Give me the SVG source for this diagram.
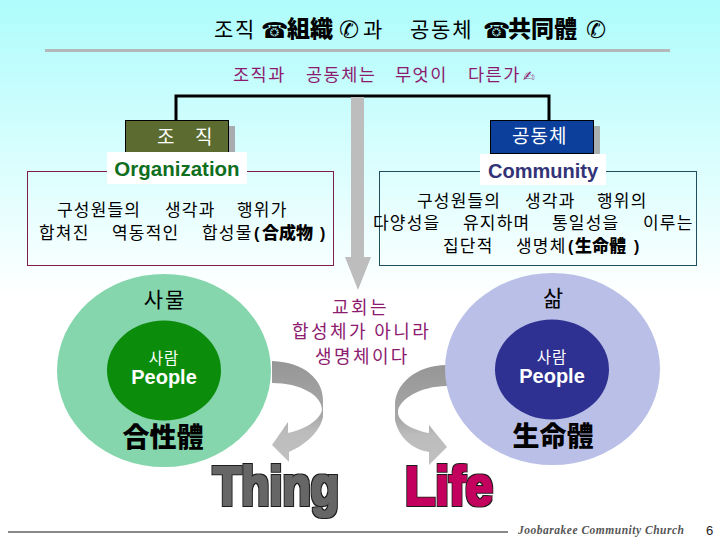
<svg xmlns="http://www.w3.org/2000/svg" width="720" height="540" viewBox="0 0 720 540">
<defs>
<linearGradient id="bg" x1="0" y1="0" x2="0" y2="1"><stop offset="0" stop-color="#aefcfc"/><stop offset="0.55" stop-color="#ffffff"/><stop offset="1" stop-color="#ffffff"/></linearGradient>
<linearGradient id="curve" x1="0" y1="0" x2="0" y2="1"><stop offset="0" stop-color="#969696"/><stop offset="0.55" stop-color="#a8a8a8"/><stop offset="0.7" stop-color="#bcbcbc"/><stop offset="1" stop-color="#c0c0c0"/></linearGradient>
<filter id="fat" x="-10%" y="-10%" width="120%" height="120%">
<feMorphology in="SourceAlpha" operator="dilate" radius="1.500" result="o"/>
<feFlood flood-color="#1a1a1a" result="d"/>
<feComposite in="d" in2="o" operator="in" result="outline"/>
<feMorphology in="SourceGraphic" operator="dilate" radius="0.800" result="f"/>
<feMerge><feMergeNode in="outline"/><feMergeNode in="f"/></feMerge>
</filter>
</defs>
<style>
text{font-family:"Noto Sans CJK KR","DejaVu Sans",sans-serif}
.lat{font-family:"Liberation Sans","Noto Sans CJK KR",sans-serif;font-weight:700}
.m{text-anchor:middle}
.b{font-weight:900}
.w{font-family:"DejaVu Sans",sans-serif}
.pink{fill:#8c1a6e}
.t1{font-size:21px;letter-spacing:1.800px}
.t2{font-size:17.500px;letter-spacing:1.500px}
.d{font-size:17px;letter-spacing:1.200px}
.n{font-size:18px;letter-spacing:2.400px}
</style>
<rect width="720" height="540" fill="url(#bg)"/>
<rect x="45" y="49" width="625" height="3" fill="#b4b8b8"/>
<g id="connectors">
<path d="M176 120V96H549V120" fill="none" stroke="#000" stroke-width="3"/>
<path d="M351 97H364V257H371L358 290L345 257H351Z" fill="#bdbdbd"/>
<path d="M272 361C305 362 323 380 323 400V417C320 432 305 445 289 452V462L272 445L288 422V433C304 430 320 420 322 410C322 395 300 383 272 383Z" fill="url(#curve)"/>
<path d="M447 365C415 365 395 385 395 405V420C398 435 410 449 429 452V465L447 447L429 425V433C412 430 398 422 398 412C398 400 420 386 447 386Z" fill="url(#curve)"/>
</g>
<g id="title">
<text x="214" y="37" class="t1">조직</text>
<text x="261" y="38" font-size="22" class="w b">☎</text>
<text x="287" y="37" font-size="23" class="b">組織</text>
<text x="339" y="38" font-size="24" class="w">✆</text>
<text x="363" y="37" class="t1">과</text>
<text x="410" y="37" class="t1">공동체</text>
<text x="483" y="38" font-size="22" class="w b">☎</text>
<text x="508" y="37" font-size="23" class="b">共同體</text>
<text x="586" y="38" font-size="24" class="w">✆</text>
</g>
<g id="subtitle" class="pink">
<text x="233" y="81" class="t2">조직과</text>
<text x="306" y="81" class="t2">공동체는</text>
<text x="395" y="81" class="t2">무엇이</text>
<text x="468" y="81" class="t2">다른가</text>
<text x="523" y="81" font-size="14" class="w">✍&#xFE0E;</text>
</g>
<g id="node-org-head">
<rect x="131" y="126" width="104" height="33" fill="#a8acb0"/>
<rect x="125.500" y="120.500" width="103" height="33" fill="#5c6b30" stroke="#000"/>
<text x="157" y="144" font-size="19" fill="#fff">조</text>
<text x="195" y="144" font-size="19" fill="#fff">직</text>
</g>
<g id="node-com-head">
<rect x="496" y="126" width="104" height="33" fill="#a8b0b0"/>
<rect x="490.500" y="120.500" width="103" height="33" fill="#0c3f9c" stroke="#000"/>
<text x="512" y="143" font-size="19" letter-spacing="1" fill="#fff">공동체</text>
</g>
<g id="node-org-def">
<rect x="27.500" y="171.500" width="306" height="94" fill="none" stroke="#7d1f4a"/>
<rect x="107" y="152" width="140" height="32" fill="#fff"/>
<text x="177" y="176" font-size="20.500" fill="#0f6f1e" class="lat m">Organization</text>
<text x="57" y="216" class="d">구성원들의</text>
<text x="165" y="216" class="d">생각과</text>
<text x="237" y="216" class="d">행위가</text>
<text x="39" y="239" class="d">합쳐진</text>
<text x="112" y="239" class="d">역동적인</text>
<text x="202" y="239" class="d">합성물</text>
<text x="254" y="239" font-size="16" class="lat">(</text>
<text x="262" y="239" font-size="17" class="b">合成物</text>
<text x="320" y="239" font-size="16" class="lat">)</text>
</g>
<g id="node-com-def">
<rect x="379.500" y="171.500" width="317" height="94" fill="none" stroke="#1f4f5f"/>
<rect x="480" y="154" width="126" height="31" fill="#fff"/>
<text x="543" y="178" font-size="20" fill="#333377" class="lat m">Community</text>
<text x="417" y="207" class="d">구성원들의</text>
<text x="525" y="207" class="d">생각과</text>
<text x="597" y="207" class="d">행위의</text>
<text x="373" y="229" class="d">다양성을</text>
<text x="463" y="229" class="d">유지하며</text>
<text x="552" y="229" class="d">통일성을</text>
<text x="643" y="229" class="d">이루는</text>
<text x="443" y="252" class="d">집단적</text>
<text x="516" y="252" class="d">생명체</text>
<text x="568" y="252" font-size="16" class="lat">(</text>
<text x="575" y="252" font-size="17" class="b">生命體</text>
<text x="634" y="252" font-size="16" class="lat">)</text>
</g>
<g id="node-thing">
<ellipse cx="164" cy="370.500" rx="107" ry="96.500" fill="#85d5ad"/>
<ellipse cx="164" cy="370.500" rx="57" ry="50" fill="#0b8d0b"/>
<text x="165" y="307" font-size="21" letter-spacing="2" class="m">사물</text>
<text x="164" y="364" font-size="15.500" letter-spacing="1" fill="#fff" class="m">사람</text>
<text x="164" y="384" font-size="20" fill="#fff" class="lat m">People</text>
<text x="163" y="447" font-size="27" class="b m">合性體</text>
</g>
<g id="node-life">
<ellipse cx="552.500" cy="369" rx="107.500" ry="96" fill="#b9bfe6"/>
<ellipse cx="552" cy="369.500" rx="57" ry="50" fill="#2e3192"/>
<text x="553" y="306" font-size="22" class="m">삶</text>
<text x="552" y="363" font-size="15.500" letter-spacing="1" fill="#fff" class="m">사람</text>
<text x="552" y="383" font-size="20" fill="#fff" class="lat m">People</text>
<text x="553" y="446" font-size="27" class="b m">生命體</text>
</g>
<g id="center-note" class="pink">
<text x="332" y="314" class="n">교회는</text>
<text x="292" y="338" class="n">합성체가 아니라</text>
<text x="315" y="363" class="n">생명체이다</text>
</g>
<text x="276" y="505" font-size="56" class="lat m" fill="#666" filter="url(#fat)" textLength="126" lengthAdjust="spacingAndGlyphs">Thing</text>
<text x="449" y="505" font-size="56" class="lat m" fill="#c4005f" filter="url(#fat)" textLength="88" lengthAdjust="spacingAndGlyphs">Life</text>
<rect x="8" y="531" width="500" height="2" fill="#888"/>
<text x="601" y="534" font-size="11.500" fill="#555" textLength="166" class="m" style="font-family:'Liberation Serif',serif;font-style:italic;font-weight:700">Joobarakee Community Church</text>
<text x="706" y="535" font-size="13" fill="#222" style="font-family:'Liberation Sans',sans-serif">6</text>
</svg>
